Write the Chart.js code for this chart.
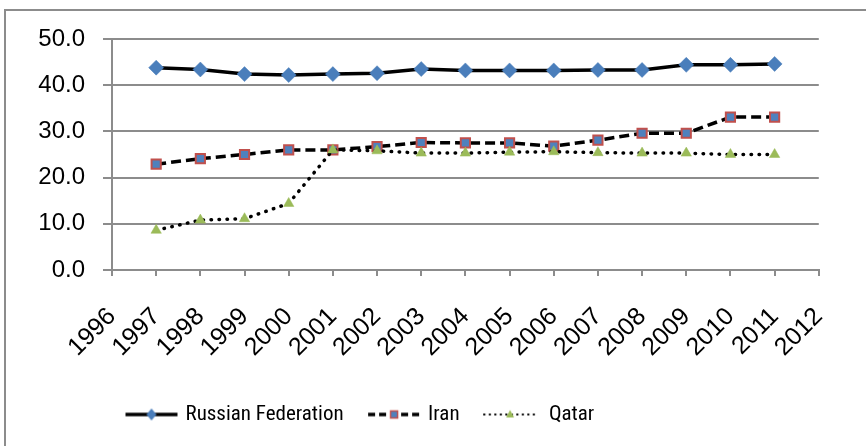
<!DOCTYPE html>
<html><head><meta charset="utf-8">
<script src="https://cdn.jsdelivr.net/npm/chart.js@4/dist/chart.umd.min.js"></script>
<style>html,body{margin:0;padding:0;background:#fff;overflow:hidden}</style>
</head><body>
<canvas id="c" width="866" height="446" style="display:block;width:866px;height:446px"></canvas>
<script>
// ---- data ----
const years  = [1997,1998,1999,2000,2001,2002,2003,2004,2005,2006,2007,2008,2009,2010,2011];
const russia = [43.8,43.4,42.4,42.2,42.4,42.6,43.5,43.2,43.2,43.2,43.3,43.3,44.4,44.4,44.6];
const iran   = [22.9,24.1,25.0,26.0,26.0,26.7,27.6,27.5,27.5,26.8,28.1,29.6,29.6,33.1,33.1];
const qatar  = [8.6,10.8,11.1,14.4,26.0,25.8,25.3,25.3,25.5,25.6,25.4,25.3,25.3,25.0,25.0];
const seriesNames = ['Russian Federation','Iran',' Qatar'];
const xRange = [1996, 2012];
const yRange = [0, 50];
const yStep = 10;

const toPts = arr => arr.map((v,i)=>({x: years[i], y: v}));

// legend icons (line + marker)
function icon(kind){
  const c = document.createElement('canvas');
  c.width = 54; c.height = 16;
  const g = c.getContext('2d');
  g.strokeStyle = '#000';
  g.lineWidth = kind==='q' ? 2 : 3.5;
  g.lineCap = kind==='q' ? 'round' : 'butt';
  if (kind==='i') g.setLineDash([7,4]);
  if (kind==='q') g.setLineDash([0.5,5]);
  g.beginPath(); g.moveTo(1,8); g.lineTo(53,8); g.stroke();
  g.setLineDash([]);
  if (kind==='r'){
    g.fillStyle='#4a7ebb'; g.beginPath();
    g.moveTo(27,2); g.lineTo(32,8); g.lineTo(27,14); g.lineTo(22,8); g.closePath(); g.fill();
  } else if (kind==='i'){
    g.fillStyle='#4f81bd'; g.fillRect(23.5,4.5,7,7);
    g.strokeStyle='#c0504d'; g.lineWidth=1.5; g.strokeRect(23.5,4.5,7,7);
  } else {
    g.fillStyle='#9bbb59'; g.beginPath();
    g.moveTo(27,3.5); g.lineTo(31,11); g.lineTo(23,11); g.closePath(); g.fill();
  }
  return c;
}
const icons = [icon('r'), icon('i'), icon('q')];

const frame = {
  id: 'frame',
  beforeDraw(chart){
    const g = chart.ctx;
    g.save();
    g.fillStyle = '#fff'; g.fillRect(0,0,chart.width,chart.height);
    g.strokeStyle = '#8c8c8c'; g.lineWidth = 2;
    g.strokeRect(5, 10, chart.width + 20, chart.height + 20);
    g.restore();
  },
  afterLayout(chart){
    if (chart.legend){
      chart.legend.left = 101;
      chart.legend.top = 377;
    }
  }
};

const gridColor = '#8c8c8c';
new Chart(document.getElementById('c'), {
  type: 'line',
  data: {
    datasets: [
      { label: seriesNames[0], data: toPts(russia), borderColor:'#000', borderWidth:3.5,
        pointStyle:'rectRot', pointRadius:7.5, pointBackgroundColor:'#4a7ebb', pointBorderColor:'#4a7ebb', pointBorderWidth:0.5, order:3 },
      { label: seriesNames[1], data: toPts(iran), borderColor:'#000', borderWidth:3.5, borderDash:[10,5],
        pointStyle:'rect', pointRadius:6.5, pointBackgroundColor:'#4f81bd', pointBorderColor:'#c0504d', pointBorderWidth:2, order:2 },
      { label: seriesNames[2], data: toPts(qatar), borderColor:'#000', borderWidth:3.5, borderDash:[0.5,7.5], borderCapStyle:'round',
        pointStyle:'triangle', pointRadius:6, pointBackgroundColor:'#9bbb59', pointBorderColor:'#9bbb59', pointBorderWidth:0.5, order:1 }
    ]
  },
  options: {
    responsive: false,
    animation: false,
    events: [],
    layout: { padding: { left: 0, right: 44, top: 39, bottom: 0 } },
    elements: { line: { tension: 0 } },
    scales: {
      x: {
        type: 'linear', min: xRange[0], max: xRange[1],
        afterFit(s){ s.height = 118; },
        grid: { drawOnChartArea: false, drawTicks: true, tickLength: 6, color: gridColor, lineWidth: 2 },
        border: { color: gridColor, width: 2 },
        ticks: { stepSize: 1, autoSkip: false, maxRotation: 45, minRotation: 45, padding: 26,
          color: '#000', font: { family: '"Liberation Sans", Arial, sans-serif', size: 25 },
          callback: v => String(v) }
      },
      y: {
        min: yRange[0], max: yRange[1],
        afterFit(s){ s.width = 112; },
        grid: { color: gridColor, lineWidth: 2, tickLength: 9 },
        border: { color: gridColor, width: 2 },
        ticks: { stepSize: yStep, padding: 18, color: '#000',
          font: { family: '"Liberation Sans", Arial, sans-serif', size: 24 },
          callback: v => Number(v).toFixed(1) }
      }
    },
    plugins: {
      tooltip: { enabled: false },
      legend: {
        position: 'bottom', align: 'start',
        labels: {
          usePointStyle: true, pointStyleWidth: 47, padding: 27, color: '#000',
          font: { family: '"Liberation Sans Narrow", "Roboto Condensed", Lato, sans-serif', size: 21 },
          sort: (a,b) => a.datasetIndex - b.datasetIndex,
          generateLabels: chart => chart.data.datasets.map((ds,i)=>({
            text: ds.label, pointStyle: icons[i], datasetIndex: i, hidden: false,
            lineWidth: 0, fillStyle: 'rgba(0,0,0,0)', strokeStyle: 'rgba(0,0,0,0)', fontColor: '#000'
          }))
        }
      }
    }
  },
  plugins: [frame]
});
</script>
</body></html>
